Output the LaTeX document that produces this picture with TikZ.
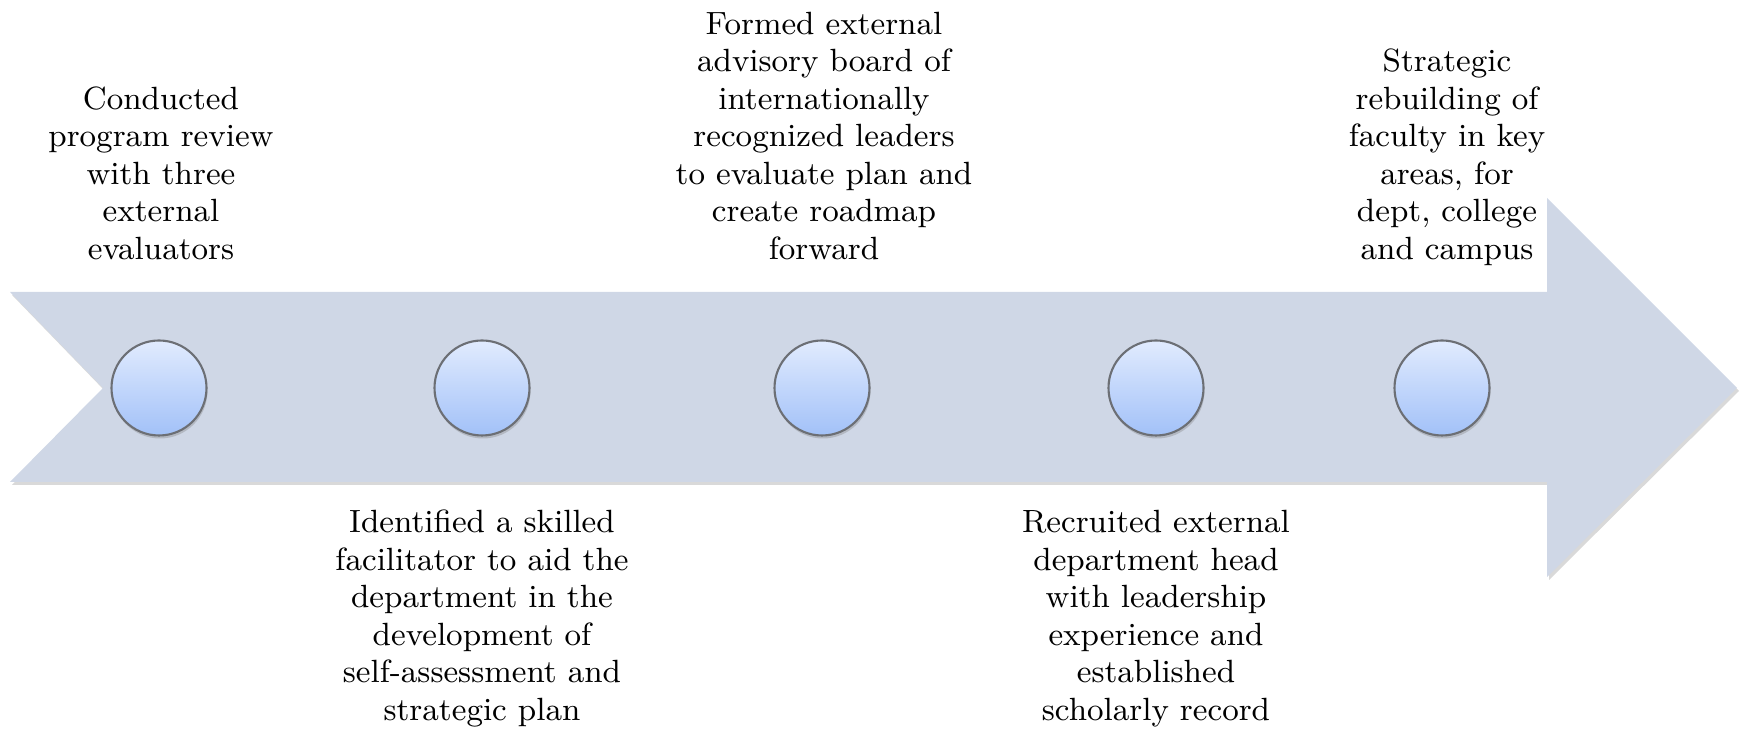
\documentclass[tikz,border=0pt]{standalone}
\usetikzlibrary{shadows}
\definecolor{arrowfill}{HTML}{CFD7E6}
\definecolor{dottop}{HTML}{E1EBFE}
\definecolor{dotbottom}{HTML}{A2C1F8}
\definecolor{dotrim}{HTML}{6C6F75}
\begin{document}
\begin{tikzpicture}
    \tikzstyle{milestone} = [draw=dotrim, line width=0.6pt, circle, minimum size=0.95cm, top color=dottop, bottom color=dotbottom, drop shadow={opacity=0.35, shadow xshift=0.01cm, shadow yshift=-0.03cm}]
    \tikzstyle{upper} = [anchor=south, align=center, inner sep=0pt, font=\fontsize{9.15}{10.67}\selectfont]
    \tikzstyle{lower} = [anchor=north, align=center, inner sep=0pt, font=\fontsize{9.15}{10.67}\selectfont]
    \useasboundingbox (0,0) rectangle (17.4,7.31);

    % Big arrow
    \fill [arrowfill, drop shadow={opacity=0.3, shadow xshift=0.02cm, shadow yshift=-0.03cm}]
        (0.10,4.39) -- (15.47,4.39) -- (15.47,5.33) -- (17.37,3.43) -- (15.47,1.54)
        -- (15.47,2.49) -- (0.10,2.49) -- (1.03,3.43) -- cycle;

    % First milestone
    \node [milestone] (Review) at (1.59,3.43) {};
    \node [upper] (ReviewText) at (1.61,4.60) {Conducted\\program review\\with three\\external\\evaluators\strut};

    % Second milestone
    \node [milestone] (Facilitator) at (4.82,3.43) {};
    \node [lower] (FacilitatorText) at (4.82,2.25) {\strut Identified a skilled\\facilitator to aid the\\department in the\\development of\\self-assessment and\\strategic plan};

    % Third milestone
    \node [milestone] (Board) at (8.22,3.43) {};
    \node [upper] (BoardText) at (8.24,4.60) {Formed external\\advisory board of\\internationally\\recognized leaders\\to evaluate plan and\\create roadmap\\forward\strut};

    % Fourth milestone
    \node [milestone] (Head) at (11.56,3.43) {};
    \node [lower] (HeadText) at (11.56,2.25) {\strut Recruited external\\department head\\with leadership\\experience and\\established\\scholarly record};

    % Fifth milestone
    \node [milestone] (Rebuild) at (14.42,3.43) {};
    \node [upper] (RebuildText) at (14.47,4.60) {Strategic\\rebuilding of\\faculty in key\\areas, for\\dept, college\\and campus\strut};
\end{tikzpicture}
\end{document}
